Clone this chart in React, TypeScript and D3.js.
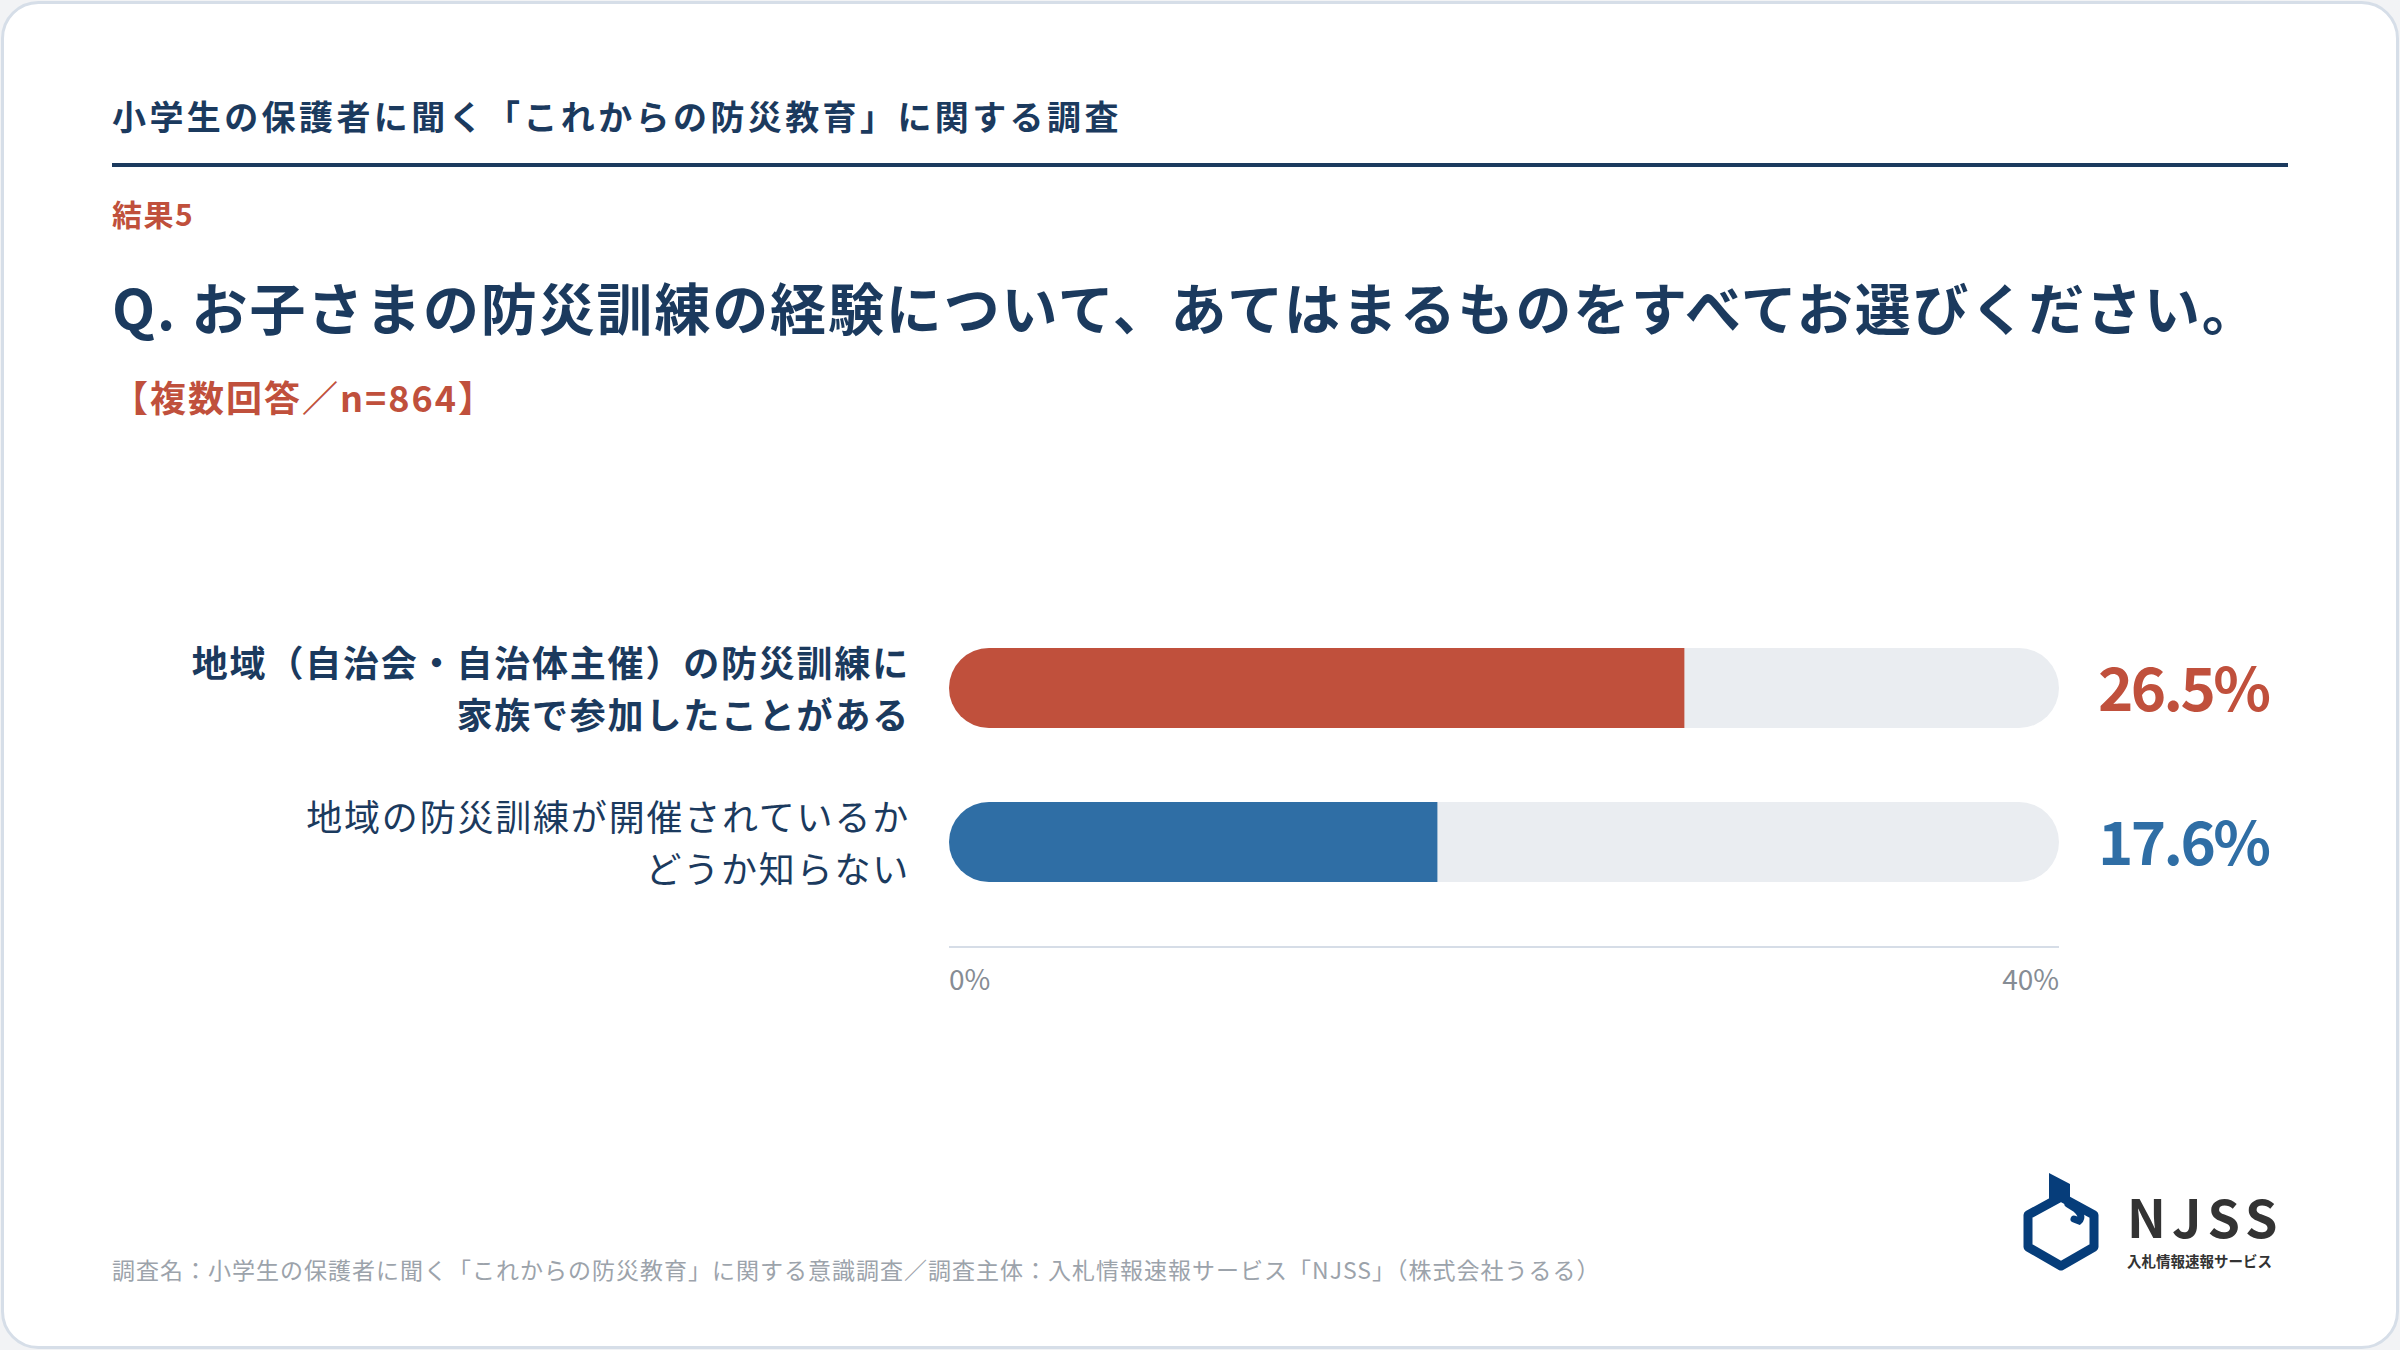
import { useEffect } from 'react'
import { scaleLinear, scalePoint } from 'd3'

// chart data
const categories = ['experienced', 'unknown']
const labelLines = [
	['地域（自治会・自治体主催）の防災訓練に', '家族で参加したことがある'],
	['地域の防災訓練が開催されているか', 'どうか知らない'],
]
const values = [26.5, 17.6]
const tickValues = [0, 40]
const tickLabels = ['0%', '40%']

const W = 2400
const H = 1350
const navy = '#1b3a5e'
const red = '#c0503c'
const blue = '#2f6ea5'
const barColors = [red, blue]
const labelWeights = [700, 400]
const font = "'Noto Sans CJK JP', 'Noto Sans', sans-serif"

export default function App() {
	useEffect(() => {
		document.body.style.margin = '0'
	}, [])

	const x = scaleLinear().domain([0, 40]).range([949, 2059])
	const y = scalePoint().domain(categories).range([688, 842])
	const barH = 80
	const r = barH / 2

	return (
		<svg width={W} height={H} viewBox={`0 0 ${W} ${H}`} style={{ display: 'block', fontFamily: font }}>
			<rect width={W} height={H} fill='#f2f3f5' />
			<rect x={2.5} y={2.5} width={W - 5} height={H - 5} rx={36} fill='#ffffff' stroke='#d6dee8' strokeWidth={3} />

			{/* header */}
			<text x={112} y={130} fontSize={34} fontWeight={700} fill={navy} letterSpacing={3.4}>
				小学生の保護者に聞く「これからの防災教育」に関する調査
			</text>
			<rect x={112} y={163} width={2176} height={4} fill={navy} />
			<text x={112} y={226} fontSize={30} fontWeight={700} fill={red} letterSpacing={1.5}>
				結果5
			</text>
			<text x={112} y={330} fontSize={56} fontWeight={700} fill={navy} letterSpacing={1.85}>
				Q. お子さまの防災訓練の経験について、あてはまるものをすべてお選びください。
			</text>
			<text x={112} y={412} fontSize={36} fontWeight={700} fill={red} letterSpacing={2}>
				【複数回答／n=864】
			</text>

			{/* bars */}
			{categories.map((c, i) => {
				const cy = y(c)!
				const top = cy - r
				const x0 = x(0)
				const x1 = x(values[i])
				const fillPath = `M${x0 + r},${top} H${x1} V${top + barH} H${x0 + r} A${r},${r} 0 0 1 ${x0 + r},${top} Z`
				return (
					<g key={c}>
						<rect x={x0} y={top} width={x(40) - x0} height={barH} rx={r} fill='#eaedf1' />
						<path d={fillPath} fill={barColors[i]} />
						{labelLines[i].map((line, j) => (
							<text
								key={j}
								x={910}
								y={cy - 11 + j * 52}
								textAnchor='end'
								fontSize={36}
								fontWeight={labelWeights[i]}
								fill={navy}
								letterSpacing={1.8}
							>
								{line}
							</text>
						))}
						<text x={2098} y={cy + 23} fontSize={60} fontWeight={700} fill={barColors[i]} letterSpacing={-2.6}>
							{values[i].toFixed(1)}%
						</text>
					</g>
				)
			})}

			{/* axis */}
			<rect x={x(0)} y={946} width={x(40) - x(0)} height={2} fill='#d6dde7' />
			{tickValues.map((t, i) => (
				<text
					key={t}
					x={x(t)}
					y={990}
					textAnchor={i === 0 ? 'start' : 'end'}
					fontSize={28}
					fill='#868c94'
				>
					{tickLabels[i]}
				</text>
			))}

			{/* footer */}
			<text x={112} y={1279} fontSize={23} fill='#9ca3ab' letterSpacing={1}>
				調査名：小学生の保護者に聞く「これからの防災教育」に関する意識調査／調査主体：入札情報速報サービス「NJSS」（株式会社うるる）
			</text>

			{/* logo */}
			<g fill='none' stroke='#063d7a' strokeWidth={9} strokeLinejoin='round'>
				<path d='M2061,1197 L2094,1215 L2094,1247 L2061,1266 L2028,1247 L2028,1215 Z' />
			</g>
			<path d='M2049,1173 L2070,1184 L2070,1207 L2061,1201 L2049,1208 Z' fill='#063d7a' />
			<path d='M2068,1204 L2076,1209 Q2084,1216 2079,1221 L2074,1219' fill='none' stroke='#063d7a' strokeWidth={7} strokeLinecap='round' />
			<text x={2127} y={1238} fontSize={52} fontWeight={700} fill='#333333' letterSpacing={6}>
				NJSS
			</text>
			<text x={2127} y={1267} fontSize={14.5} fontWeight={700} fill='#333333'>
				入札情報速報サービス
			</text>
		</svg>
	)
}
